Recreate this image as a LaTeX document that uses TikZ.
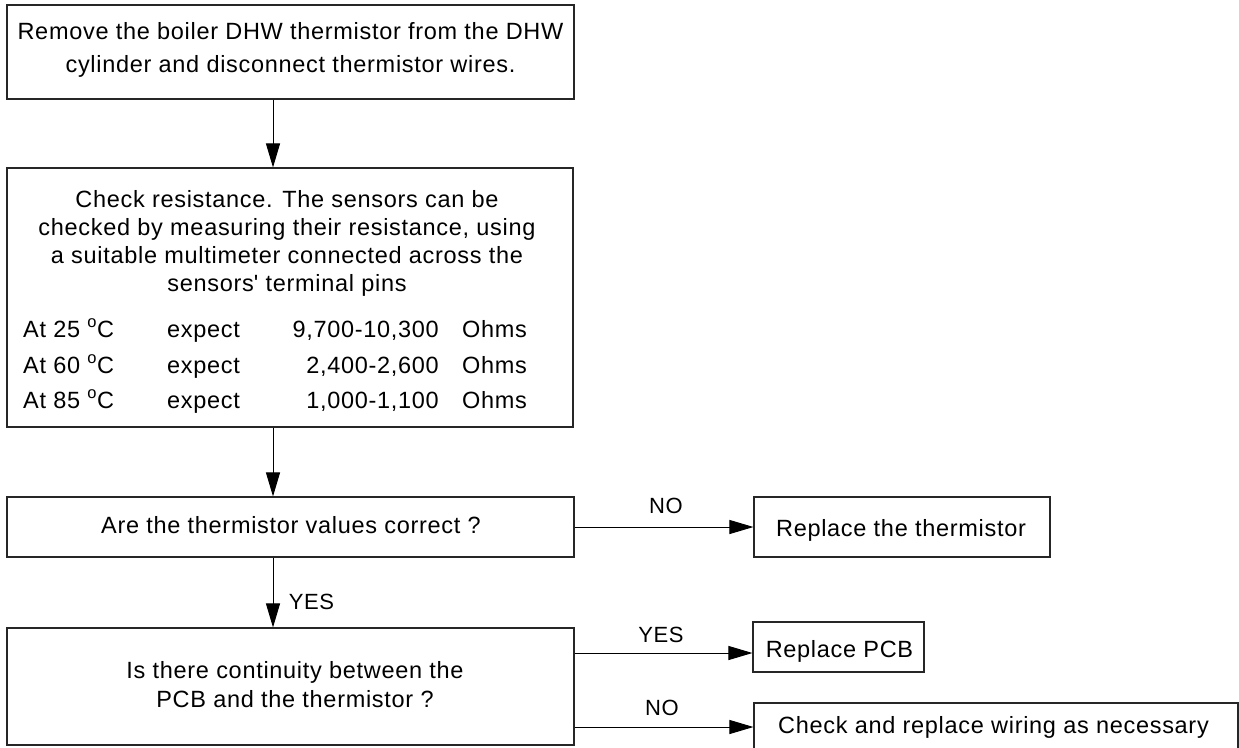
\documentclass[tikz,border=0pt]{standalone}
\usepackage{fontspec}
\setmainfont{Liberation Sans}[LetterSpace=3]
\usetikzlibrary{arrows.meta}
\begin{document}
\begin{tikzpicture}[x=1pt,y=-1pt,
  box/.style={draw=black!85,line width=1.1pt,rectangle,inner sep=0pt},
  txt/.style={inner sep=0pt,anchor=base,font=\fontsize{23.5}{28}\selectfont},
  txtw/.style={txt,anchor=base west},
  txte/.style={txt,anchor=base east},
  lbl/.style={inner sep=0pt,anchor=base,font=\fontsize{22}{26}\selectfont},
  arr/.style={draw=black,line width=1pt,-{Triangle[length=24pt,width=14pt]}}]
\useasboundingbox (0,0) rectangle (1239,747);
\fill[white] (0,0) rectangle (1239,747);
% boxes
\node[box,minimum width=567pt,minimum height=94pt] (b1) at (290.5,52) {};
\node[box,minimum width=566pt,minimum height=259pt] (b2) at (290,297.5) {};
\node[box,minimum width=567pt,minimum height=60pt] (are) at (290.5,527) {};
\node[box,minimum width=567pt,minimum height=117pt] (cont) at (290.5,686.5) {};
\node[box,minimum width=296pt,minimum height=60pt] (rt) at (902,527) {};
\node[box,minimum width=171pt,minimum height=50pt] (pcb) at (838.5,647) {};
\node[box,minimum width=484pt,minimum height=47pt] (chk) at (996,726.5) {};
% texts
\node[txt] (t1a) at (290.5,39) {Remove the boiler DHW thermistor from the DHW};
\node[txt] (t1b) at (290.5,72) {cylinder and disconnect thermistor wires.};
\node[txt] (t2a) at (287,207) {Check resistance. The sensors can be};
\node[txt] (t2b) at (287,235) {checked by measuring their resistance, using};
\node[txt] (t2c) at (287,263) {a suitable multimeter connected across the};
\node[txt] (t2d) at (287,291) {sensors\textquotesingle{} terminal pins};
\node[txtw] (r1a) at (23,337) {At 25 \textsuperscript{o}C};
\node[txtw] (r1b) at (167,337) {expect};
\node[txte] (r1c) at (439,337) {9,700-10,300};
\node[txtw] (r1d) at (462,337) {Ohms};
\node[txtw] (r2a) at (23,373) {At 60 \textsuperscript{o}C};
\node[txtw] (r2b) at (167,373) {expect};
\node[txte] (r2c) at (439,373) {2,400-2,600};
\node[txtw] (r2d) at (462,373) {Ohms};
\node[txtw] (r3a) at (23,408) {At 85 \textsuperscript{o}C};
\node[txtw] (r3b) at (167,408) {expect};
\node[txte] (r3c) at (439,408) {1,000-1,100};
\node[txtw] (r3d) at (462,408) {Ohms};
\node[txt] (t3) at (291,533) {Are the thermistor values correct ?};
\node[txt] (t4a) at (295,678) {Is there continuity between the};
\node[txt] (t4b) at (295,707) {PCB and the thermistor ?};
\node[txt] (t5) at (901,536) {Replace the thermistor};
\node[txt] (t6) at (839.5,657) {Replace PCB};
\node[txt] (t7) at (993.5,733) {Check and replace wiring as necessary};
% labels
\node[lbl] (l1) at (666,513) {NO};
\node[lbl] (l2) at (311.5,609) {YES};
\node[lbl] (l3) at (661,642) {YES};
\node[lbl] (l4) at (662,715) {NO};
% connectors
\coordinate (ax) at (273,0);
\coordinate (y1) at (0,653);
\coordinate (y2) at (0,727);
\draw[arr] (b1.south -| ax) -- (b2.north -| ax);
\draw[arr] (b2.south -| ax) -- (are.north -| ax);
\draw[arr] (are.south -| ax) -- (cont.north -| ax);
\draw[arr] (are.east) -- (rt.west);
\draw[arr] (cont.east |- y1) -- (pcb.west |- y1);
\draw[arr] (cont.east |- y2) -- (chk.west |- y2);
\end{tikzpicture}
\end{document}
